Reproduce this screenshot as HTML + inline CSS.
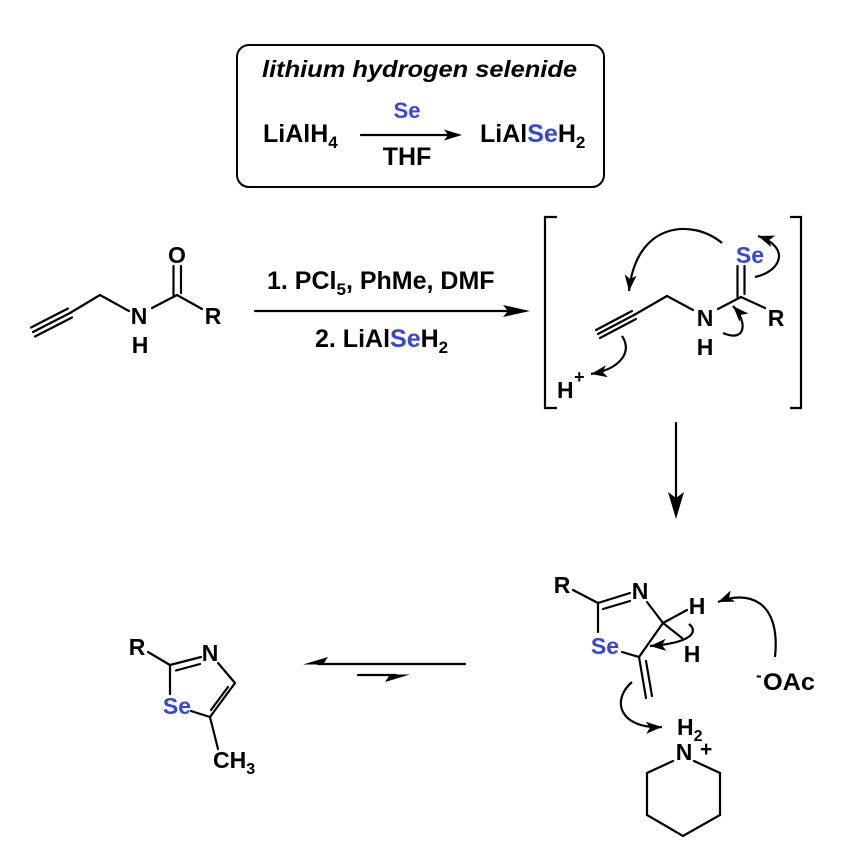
<!DOCTYPE html>
<html>
<head>
<meta charset="utf-8">
<style>
  html,body{margin:0;padding:0;background:#fff;}
  svg{display:block;}
  text{font-family:"Liberation Sans",Arial,sans-serif;font-weight:bold;fill:#000;}
  .b{fill:#3346dd;}
  .bond{stroke:#000;stroke-width:2.2;fill:none;stroke-linecap:round;}
  .curve{stroke:#000;stroke-width:2.2;fill:none;}
</style>
</head>
<body>
<svg width="848" height="849" viewBox="0 0 848 849" xmlns="http://www.w3.org/2000/svg">
  <defs>
    <marker id="ah" markerUnits="userSpaceOnUse" markerWidth="17" markerHeight="12" refX="16" refY="6" orient="auto">
      <path d="M0,0 L16,6 L0,12 L4,6 z" fill="#000"/>
    </marker>
  </defs>
  <rect x="0" y="0" width="848" height="849" fill="#fff"/>

  <!-- Box -->
  <rect x="237" y="45" width="367" height="142" rx="12" ry="12" fill="none" stroke="#000" stroke-width="2"/>
  <text x="262" y="77" font-size="23" font-style="italic" textLength="315" lengthAdjust="spacingAndGlyphs">lithium hydrogen selenide</text>
  <text x="263" y="142" font-size="25">LiAlH<tspan font-size="17" dy="6">4</tspan></text>
  <line class="bond" x1="361" y1="135" x2="448" y2="135"/>
  <polygon points="462,135 444,129.5 448,135 444,140.5" fill="#000"/>
  <text class="b" x="407" y="118" font-size="22" text-anchor="middle">Se</text>
  <text x="407" y="165" font-size="25" text-anchor="middle">THF</text>
  <text x="480" y="142" font-size="25">LiAl<tspan class="b">Se</tspan>H<tspan font-size="17" dy="6">2</tspan></text>

  <!-- Starting material -->
  <line class="bond" x1="33" y1="332" x2="70" y2="313"/>
  <line class="bond" x1="31" y1="327.5" x2="68" y2="308.5"/>
  <line class="bond" x1="35" y1="336.5" x2="72" y2="317.5"/>
  <line class="bond" x1="70" y1="313" x2="100" y2="295"/>
  <line class="bond" x1="100" y1="295" x2="129" y2="311"/>
  <line class="bond" x1="152" y1="308" x2="177" y2="295"/>
  <line class="bond" x1="173.5" y1="266" x2="173.5" y2="295"/>
  <line class="bond" x1="181" y1="266" x2="181" y2="293"/>
  <line class="bond" x1="177" y1="295" x2="202" y2="309"/>
  <text x="177" y="263" font-size="23" text-anchor="middle">O</text>
  <text x="139" y="324" font-size="23" text-anchor="middle">N</text>
  <text x="140" y="353" font-size="23" text-anchor="middle">H</text>
  <text x="213" y="324" font-size="23" text-anchor="middle">R</text>

  <!-- Main reaction arrow -->
  <text x="267" y="289" font-size="25">1. PCl<tspan font-size="17" dy="6">5</tspan><tspan dy="-6">, PhMe, DMF</tspan></text>
  <line class="bond" x1="255" y1="311" x2="512" y2="311"/>
  <polygon points="530,311 503,305 508,311 503,317" fill="#000"/>
  <text x="315" y="347" font-size="25">2. LiAl<tspan class="b">Se</tspan>H<tspan font-size="17" dy="6">2</tspan></text>

  <!-- Brackets -->
  <polyline points="557,217 545,217 545,408 557,408" fill="none" stroke="#000" stroke-width="2.2"/>
  <polyline points="790,217 801,217 801,408 790,408" fill="none" stroke="#000" stroke-width="2.2"/>

  <!-- Intermediate -->
  <line class="bond" x1="598" y1="334" x2="634" y2="315"/>
  <line class="bond" x1="596" y1="330" x2="632" y2="311"/>
  <line class="bond" x1="600" y1="338" x2="636" y2="319"/>
  <line class="bond" x1="634" y1="315" x2="667" y2="296"/>
  <line class="bond" x1="667" y1="296" x2="693" y2="310"/>
  <line class="bond" x1="718" y1="309" x2="741" y2="297"/>
  <line class="bond" x1="737.5" y1="266" x2="737.5" y2="297"/>
  <line class="bond" x1="744.5" y1="266" x2="744.5" y2="294"/>
  <line class="bond" x1="741" y1="297" x2="765" y2="308"/>
  <text class="b" x="750" y="263" font-size="23" text-anchor="middle">Se</text>
  <text x="705" y="326" font-size="23" text-anchor="middle">N</text>
  <text x="705" y="355" font-size="23" text-anchor="middle">H</text>
  <text x="776" y="326" font-size="23" text-anchor="middle">R</text>
  <text x="557" y="398" font-size="23">H</text>
  <text x="574" y="383" font-size="18">+</text>
  <!-- curved arrows intermediate -->
  <path class="curve" d="M722,243 C692,218 636,222 629,291" marker-end="url(#ah)"/>
  <path class="curve" d="M755,277 C780,272 792,248 758,236" marker-end="url(#ah)"/>
  <path class="curve" d="M723,333 C746,343 748,322 733,306" marker-end="url(#ah)"/>
  <path class="curve" d="M622,336 C633,352 620,369 591,374" marker-end="url(#ah)"/>

  <!-- Down arrow -->
  <line class="bond" x1="676" y1="423" x2="676" y2="500"/>
  <polygon points="676,519 668,492 676,498 684,492" fill="#000"/>

  <!-- Bottom right selenazoline -->
  <line class="bond" x1="573" y1="590" x2="598" y2="603"/>
  <line class="bond" x1="598" y1="603" x2="630" y2="593"/>
  <line class="bond" x1="603" y1="609" x2="630" y2="601"/>
  <line class="bond" x1="647" y1="602" x2="663" y2="623"/>
  <line class="bond" x1="663" y1="623" x2="687" y2="610"/>
  <line class="bond" x1="663" y1="623" x2="682" y2="638"/>
  <line class="bond" x1="663" y1="623" x2="639" y2="657"/>
  <line class="bond" x1="639" y1="657" x2="622" y2="652"/>
  <line class="bond" x1="598" y1="632" x2="598" y2="603"/>
  <line class="bond" x1="639" y1="657" x2="646" y2="698"/>
  <line class="bond" x1="646" y1="661" x2="652" y2="696"/>
  <text x="562" y="593" font-size="23" text-anchor="middle">R</text>
  <text x="640" y="599" font-size="23" text-anchor="middle">N</text>
  <text x="697" y="614" font-size="23" text-anchor="middle">H</text>
  <text x="692" y="662" font-size="23" text-anchor="middle">H</text>
  <text class="b" x="605" y="654" font-size="23" text-anchor="middle">Se</text>
  <text x="756" y="681" font-size="17">-</text>
  <text x="763" y="690" font-size="24" textLength="52" lengthAdjust="spacingAndGlyphs">OAc</text>
  <path class="curve" d="M689,624 C699,632 691,643 650,646" marker-end="url(#ah)"/>
  <path class="curve" d="M775,657 C781,600 748,590 718,602" marker-end="url(#ah)"/>
  <path class="curve" d="M632,682 C611,700 619,729 662,727" marker-end="url(#ah)"/>

  <!-- Piperidinium -->
  <text x="677" y="735" font-size="23">H<tspan font-size="16" dy="6">2</tspan></text>
  <text x="684" y="760" font-size="23" text-anchor="middle">N</text>
  <text x="700" y="756" font-size="21">+</text>
  <polyline class="bond" points="673,761 647,773 647,815 683,836 720,815 720,773 694,761"/>

  <!-- Equilibrium arrows -->
  <line class="bond" x1="318" y1="664" x2="465" y2="664"/>
  <polygon points="303,664.5 328,657 323,664.5" fill="#000"/>
  <line class="bond" x1="358" y1="675" x2="396" y2="675"/>
  <polygon points="410,674.5 385,682 390,674.5" fill="#000"/>

  <!-- Bottom left selenazole -->
  <line class="bond" x1="148" y1="652" x2="170" y2="665"/>
  <line class="bond" x1="170" y1="665" x2="201" y2="657"/>
  <line class="bond" x1="176" y1="670.5" x2="200" y2="664"/>
  <line class="bond" x1="218" y1="663" x2="235" y2="683"/>
  <line class="bond" x1="235" y1="683" x2="210" y2="717"/>
  <line class="bond" x1="228" y1="687" x2="211" y2="710"/>
  <line class="bond" x1="210" y1="717" x2="191" y2="711"/>
  <line class="bond" x1="170" y1="694" x2="170" y2="665"/>
  <line class="bond" x1="210" y1="717" x2="218" y2="749"/>
  <text x="137" y="655" font-size="23" text-anchor="middle">R</text>
  <text x="210" y="661" font-size="23" text-anchor="middle">N</text>
  <text class="b" x="177" y="714" font-size="23" text-anchor="middle">Se</text>
  <text x="213" y="768" font-size="23">CH<tspan font-size="16" dy="6">3</tspan></text>
</svg>
</body>
</html>
